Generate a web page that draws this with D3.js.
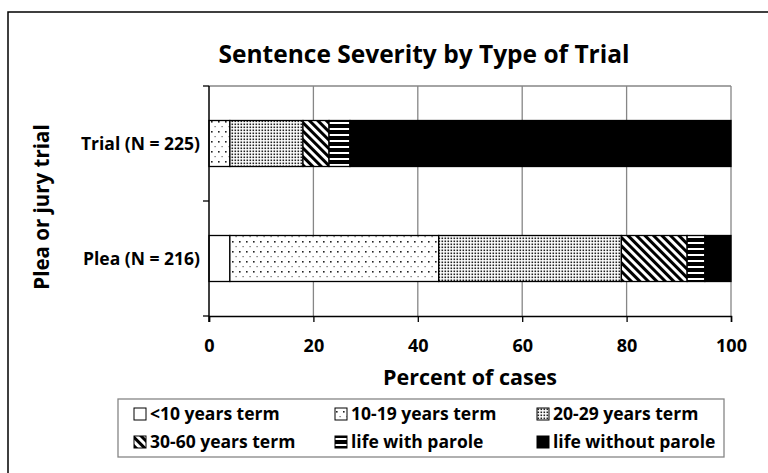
<!DOCTYPE html>
<html><head><meta charset="utf-8">
<script src="https://cdn.jsdelivr.net/npm/d3@7"></script>
<style>body{margin:0;background:#fff}svg{display:block}text{font-family:"Open Sans",sans-serif;font-weight:bold;fill:#000}</style>
</head><body><svg id="c" width="768" height="473"></svg>
<script>
const categories = ["Trial (N = 225)", "Plea (N = 216)"];
const seriesNames = ["<10 years term", "10-19 years term", "20-29 years term", "30-60 years term", "life with parole", "life without parole"];
const under10 = [0, 4];
const y10to19 = [4, 40];
const y20to29 = [14, 35];
const y30to60 = [5, 12.6];
const lifeParole = [4, 3.4];
const lifeNoParole = [73, 5];
const xTicks = [0, 20, 40, 60, 80, 100];

const series = [under10, y10to19, y20to29, y30to60, lifeParole, lifeNoParole];
const svg = d3.select("#c");
const defs = svg.append("defs");
function pat(id, w, h, build, attrs) {
  const p = defs.append("pattern").attr("id", id).attr("patternUnits", "userSpaceOnUse").attr("width", w).attr("height", h);
  if (attrs) for (const k in attrs) p.attr(k, attrs[k]);
  build(p);
}
pat("p1", 7, 10, p => {
  p.append("rect").attr("width", 7).attr("height", 10).attr("fill", "#fff");
  p.append("rect").attr("x", 1).attr("y", 1).attr("width", 1.6).attr("height", 1.6).attr("fill", "#222");
  p.append("rect").attr("x", 4.5).attr("y", 6).attr("width", 1.2).attr("height", 1.2).attr("fill", "#666");
});
pat("p2", 3, 3, p => {
  p.append("rect").attr("width", 3).attr("height", 3).attr("fill", "#fff");
  p.append("rect").attr("x", 0.5).attr("y", 0.5).attr("width", 1.6).attr("height", 1.6).attr("fill", "#222");
});
pat("p3", 6, 6, p => {
  p.append("rect").attr("width", 6).attr("height", 6).attr("fill", "#fff");
  p.append("rect").attr("width", 3).attr("height", 6).attr("fill", "#000");
}, {patternTransform: "rotate(-45)"});
pat("p4", 8, 6, p => {
  p.append("rect").attr("width", 8).attr("height", 6).attr("fill", "#000");
  p.append("rect").attr("y", 2).attr("width", 8).attr("height", 2).attr("fill", "#fff");
});
const fills = ["#fff", "url(#p1)", "url(#p2)", "url(#p3)", "url(#p4)", "#000"];

// outer border
svg.append("rect").attr("x", 8).attr("y", 12).attr("width", 800).attr("height", 500).attr("fill", "none").attr("stroke", "#000").attr("stroke-width", 1.5);

const L = 209, R = 731, T = 86, B = 316;
const x = d3.scaleLinear().domain([0, 100]).range([L, R]);
const y = d3.scaleBand().domain(categories).range([T, B]).paddingInner(0.6).paddingOuter(0.3);

// gridlines
svg.append("g").selectAll("line").data(xTicks.slice(1)).join("line")
  .attr("x1", d => x(d)).attr("x2", d => x(d)).attr("y1", T).attr("y2", B)
  .attr("stroke", "#868686").attr("stroke-width", 1.3);
svg.append("line").attr("x1", L).attr("x2", R).attr("y1", T).attr("y2", T).attr("stroke", "#868686").attr("stroke-width", 1.3);

// bars
const stackData = categories.map((c, i) => {
  let acc = 0;
  return series.map((s, k) => { const v = s[i]; const r = {cat: c, k, x0: acc, x1: acc + v}; acc += v; return r; });
});
stackData.forEach(row => {
  svg.append("g").selectAll("rect").data(row.filter(d => d.x1 > d.x0)).join("rect")
    .attr("x", d => x(d.x0)).attr("width", d => x(d.x1) - x(d.x0))
    .attr("y", d => y(d.cat)).attr("height", y.bandwidth())
    .attr("fill", d => fills[d.k]).attr("stroke", "#000").attr("stroke-width", 1.3);
});

// axes
const xa = svg.append("g").attr("transform", `translate(0,${B})`)
  .call(d3.axisBottom(x).tickValues(xTicks).tickSize(6).tickPadding(17));
xa.select(".domain").attr("stroke", "#000").attr("stroke-width", 1.5);
xa.selectAll(".tick line").attr("stroke", "#000").attr("stroke-width", 1.3);
xa.selectAll("text").style("font-size", "18px").style("font-family", "'Open Sans',sans-serif").style("font-weight", "bold").attr("fill", "#000");

svg.append("line").attr("x1", L).attr("x2", L).attr("y1", T).attr("y2", B + 6).attr("stroke", "#000").attr("stroke-width", 1.5);
const yBounds = [T, (y(categories[0]) + y.bandwidth() + y(categories[1])) / 2, B];
svg.append("g").selectAll("line").data(yBounds).join("line")
  .attr("x1", L - 6).attr("x2", L).attr("y1", d => d).attr("y2", d => d).attr("stroke", "#000").attr("stroke-width", 1.3);
svg.append("g").selectAll("text").data(categories).join("text")
  .attr("x", 200).attr("y", d => y(d) + y.bandwidth() / 2 + 6).attr("text-anchor", "end")
  .style("font-size", "17.5px").text(d => d);

// titles
svg.append("text").attr("x", 424).attr("y", 63).attr("text-anchor", "middle").style("font-size", "24.5px").text("Sentence Severity by Type of Trial");
svg.append("text").attr("x", 470).attr("y", 385).attr("text-anchor", "middle").style("font-size", "21.5px").text("Percent of cases");
svg.append("text").attr("transform", "translate(49,207) rotate(-90)").attr("text-anchor", "middle").style("font-size", "20.5px").text("Plea or jury trial");

// legend
svg.append("rect").attr("x", 118).attr("y", 399).attr("width", 606).attr("height", 58).attr("fill", "#fff").attr("stroke", "#868686").attr("stroke-width", 1.3);
const lg = svg.append("g").selectAll("g").data(seriesNames).join("g")
  .attr("transform", (d, i) => `translate(${[134, 335, 537][i % 3]},${i < 3 ? 420 : 448})`);
lg.append("rect").attr("width", 12).attr("height", 12).attr("y", -12).attr("fill", (d, i) => fills[i]).attr("stroke", "#000").attr("stroke-width", 1);
lg.append("text").attr("x", 16).attr("y", 0).style("font-size", "17.5px").text(d => d);
</script></body></html>
